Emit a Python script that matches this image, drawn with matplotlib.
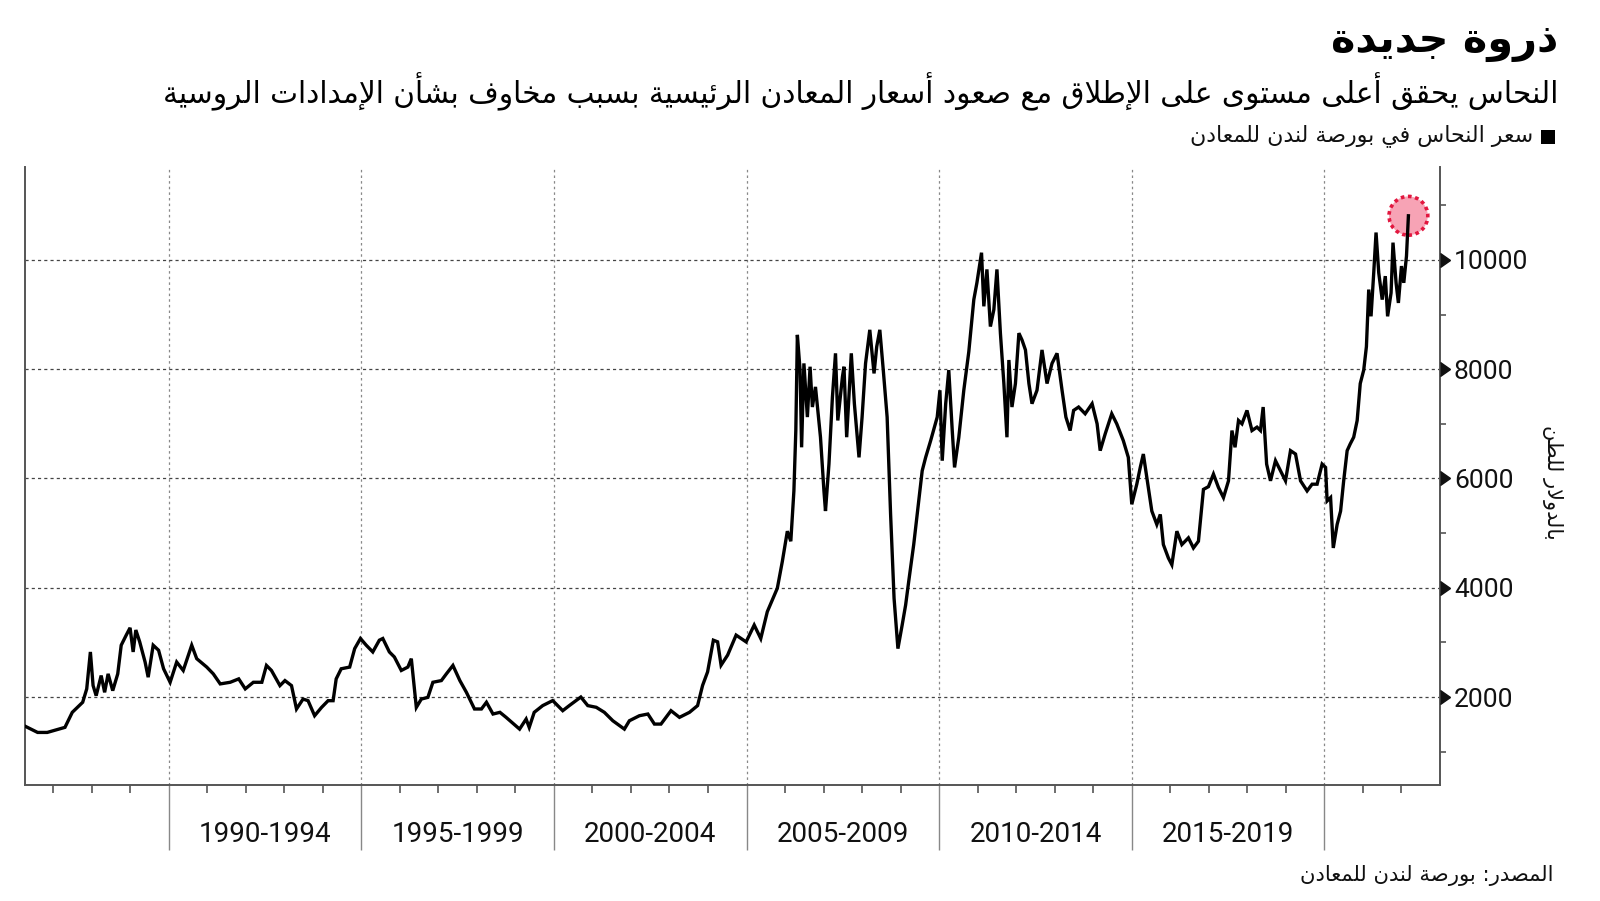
import matplotlib
matplotlib.use("Agg")
import matplotlib.pyplot as plt
import matplotlib.transforms as mtransforms
from matplotlib.patches import Rectangle
from matplotlib.ticker import FixedLocator, NullFormatter

# ---------------- data ----------------
years = [
    1986.25, 1986.6, 1986.85, 1987.0, 1987.31, 1987.5, 1987.77, 1987.875, 1987.97, 1988.04,
    1988.12, 1988.25, 1988.34, 1988.43, 1988.55, 1988.68, 1988.77, 1988.9, 1989.0, 1989.08,
    1989.15, 1989.25, 1989.39, 1989.47, 1989.6, 1989.74, 1989.87, 1990.04, 1990.21, 1990.38,
    1990.6, 1990.73, 1990.99, 1991.16, 1991.34, 1991.6, 1991.82, 1991.99, 1992.2, 1992.42,
    1992.54, 1992.67, 1992.89, 1993.02, 1993.19, 1993.32, 1993.49, 1993.62, 1993.79, 1993.97,
    1994.14, 1994.27, 1994.35, 1994.48, 1994.7, 1994.83, 1994.98, 1995.13, 1995.3, 1995.47,
    1995.56, 1995.73, 1995.86, 1996.04, 1996.21, 1996.3, 1996.43, 1996.56, 1996.73, 1996.86,
    1997.08, 1997.21, 1997.38, 1997.56, 1997.73, 1997.94, 1998.12, 1998.25, 1998.42, 1998.6,
    1998.76, 1999.11, 1999.28, 1999.36, 1999.49, 1999.71, 1999.97, 2000.23, 2000.4, 2000.7,
    2000.88, 2001.1, 2001.31, 2001.53, 2001.83, 2001.96, 2002.22, 2002.44, 2002.61, 2002.78,
    2003.04, 2003.26, 2003.52, 2003.73, 2003.86, 2003.99, 2004.14, 2004.25, 2004.34, 2004.51,
    2004.73, 2004.99, 2005.2, 2005.37, 2005.54, 2005.8, 2005.93, 2006.06, 2006.15, 2006.23,
    2006.28, 2006.32, 2006.39, 2006.43, 2006.49, 2006.58, 2006.65, 2006.71, 2006.79, 2006.92,
    2007.01, 2007.05, 2007.14, 2007.23, 2007.31, 2007.37, 2007.49, 2007.53, 2007.6, 2007.72,
    2007.8, 2007.92, 2008.0, 2008.09, 2008.2, 2008.31, 2008.38, 2008.46, 2008.55, 2008.65,
    2008.74, 2008.83, 2008.93, 2009.04, 2009.13, 2009.21, 2009.34, 2009.43, 2009.56, 2009.65,
    2009.78, 2009.95, 2010.02, 2010.08, 2010.17, 2010.25, 2010.34, 2010.4, 2010.51, 2010.64,
    2010.77, 2010.9, 2010.98, 2011.1, 2011.16, 2011.24, 2011.33, 2011.42, 2011.5, 2011.59,
    2011.68, 2011.76, 2011.81, 2011.89, 2011.98, 2012.07, 2012.15, 2012.24, 2012.33, 2012.41,
    2012.54, 2012.67, 2012.8, 2012.93, 2013.06, 2013.19, 2013.29, 2013.4, 2013.49, 2013.62,
    2013.79, 2013.97, 2014.1, 2014.18, 2014.31, 2014.48, 2014.61, 2014.78, 2014.91, 2015.0,
    2015.13, 2015.22, 2015.3, 2015.39, 2015.52, 2015.65, 2015.74, 2015.82, 2015.95, 2016.04,
    2016.17, 2016.3, 2016.47, 2016.6, 2016.73, 2016.86, 2016.99, 2017.12, 2017.25, 2017.38,
    2017.51, 2017.6, 2017.68, 2017.77, 2017.86, 2017.99, 2018.12, 2018.25, 2018.34, 2018.41,
    2018.5, 2018.6, 2018.73, 2018.86, 2018.99, 2019.12, 2019.25, 2019.38, 2019.55, 2019.68,
    2019.81, 2019.94, 2020.03, 2020.07, 2020.16, 2020.23, 2020.33, 2020.42, 2020.5, 2020.59,
    2020.67, 2020.76, 2020.85, 2020.93, 2021.02, 2021.09, 2021.15, 2021.21, 2021.28, 2021.34,
    2021.41, 2021.5, 2021.58, 2021.64, 2021.73, 2021.78, 2021.86, 2021.92, 2022.0, 2022.06,
    2022.13, 2022.18,
]
copper_price = [
    1475, 1352, 1352, 1383, 1445, 1720, 1904, 2149, 2825, 2210,
    2025, 2393, 2086, 2424, 2117, 2424, 2948, 3132, 3267, 2825,
    3226, 3010, 2640, 2363, 2948, 2856, 2517, 2270, 2640, 2486,
    2948, 2702, 2548, 2424, 2240, 2270, 2332, 2149, 2270, 2270,
    2578, 2486, 2209, 2301, 2209, 1781, 1963, 1933, 1658, 1810,
    1933, 1933, 2332, 2517, 2548, 2886, 3071, 2948, 2825, 3040,
    3071, 2825, 2733, 2486, 2548, 2702, 1810, 1963, 1994, 2270,
    2301, 2424, 2578, 2301, 2086, 1781, 1781, 1904, 1689, 1720,
    1628, 1413, 1597, 1444, 1720, 1843, 1935, 1750, 1843, 2000,
    1843, 1812, 1720, 1566, 1413, 1566, 1658, 1689, 1505, 1505,
    1750, 1628, 1720, 1843, 2212, 2460, 3040, 3010, 2583, 2767,
    3133, 3009, 3317, 3070, 3562, 3991, 4482, 5035, 4851, 5772,
    6877, 8628, 7983, 6570, 8106, 7123, 8045, 7307, 7676, 6755,
    5772, 5404, 6263, 7491, 8290, 7061, 7860, 8045, 6755, 8290,
    7368, 6386, 7123, 8106, 8720, 7922, 8413, 8720, 7983, 7123,
    5342, 3807, 2886, 3317, 3684, 4114, 4790, 5342, 6140, 6386,
    6693, 7123, 7614, 6325, 7368, 7983, 6877, 6202, 6750, 7614,
    8320, 9273, 9580, 10132, 9150, 9826, 8780, 9089, 9826, 8659,
    7737, 6754, 8168, 7307, 7737, 8659, 8536, 8352, 7737, 7368,
    7614, 8352, 7737, 8106, 8290, 7614, 7123, 6877, 7245, 7307,
    7184, 7368, 7000, 6509, 6816, 7184, 7000, 6693, 6386, 5527,
    5895, 6202, 6447, 6018, 5404, 5158, 5342, 4790, 4544, 4421,
    5035, 4790, 4913, 4728, 4851, 5800, 5850, 6080, 5834, 5650,
    5957, 6877, 6570, 7061, 7000, 7245, 6877, 6939, 6877, 7307,
    6263, 5957, 6325, 6140, 5957, 6509, 6447, 5957, 5772, 5895,
    5895, 6263, 6202, 5588, 5650, 4728, 5158, 5404, 5957, 6509,
    6632, 6755, 7061, 7737, 7983, 8413, 9457, 8967, 9764, 10501,
    9764, 9273, 9703, 8967, 9396, 10316, 9580, 9212, 9887, 9580,
    10071, 10807,
]
period_bounds = [1990, 1995, 2000, 2005, 2010, 2015, 2020]
period_labels = ["1990-1994", "1995-1999", "2000-2004", "2005-2009",
                 "2010-2014", "2015-2019"]
y_major = [2000, 4000, 6000, 8000, 10000]
y_minor = [1000, 3000, 5000, 7000, 9000, 11000]

title = "ذروة جديدة"
subtitle = "النحاس يحقق أعلى مستوى على الإطلاق مع صعود أسعار المعادن الرئيسية بسبب مخاوف بشأن الإمدادات الروسية"
legend_label = "سعر النحاس في بورصة لندن للمعادن"
y_label = "بالدولار للطن"
source = "المصدر: بورصة لندن للمعادن"

# ---------------- Arabic shaping (presentation forms + RTL order) ----------------
AR_FORMS = {
    '\u0621': (0xFE80, 1), '\u0622': (0xFE81, 2), '\u0623': (0xFE83, 2), '\u0624': (0xFE85, 2),
    '\u0625': (0xFE87, 2), '\u0626': (0xFE89, 4), '\u0627': (0xFE8D, 2), '\u0628': (0xFE8F, 4),
    '\u0629': (0xFE93, 2), '\u062A': (0xFE95, 4), '\u062B': (0xFE99, 4), '\u062C': (0xFE9D, 4),
    '\u062D': (0xFEA1, 4), '\u062E': (0xFEA5, 4), '\u062F': (0xFEA9, 2), '\u0630': (0xFEAB, 2),
    '\u0631': (0xFEAD, 2), '\u0632': (0xFEAF, 2), '\u0633': (0xFEB1, 4), '\u0634': (0xFEB5, 4),
    '\u0635': (0xFEB9, 4), '\u0636': (0xFEBD, 4), '\u0637': (0xFEC1, 4), '\u0638': (0xFEC5, 4),
    '\u0639': (0xFEC9, 4), '\u063A': (0xFECD, 4), '\u0641': (0xFED1, 4), '\u0642': (0xFED5, 4),
    '\u0643': (0xFED9, 4), '\u0644': (0xFEDD, 4), '\u0645': (0xFEE1, 4), '\u0646': (0xFEE5, 4),
    '\u0647': (0xFEE9, 4), '\u0648': (0xFEED, 2), '\u0649': (0xFEEF, 2), '\u064A': (0xFEF1, 4),
}
LAM_ALEF = {'\u0622': 0xFEF5, '\u0623': 0xFEF7, '\u0625': 0xFEF9, '\u0627': 0xFEFB}


def ar(s):
    out = []
    n = len(s)
    i = 0
    prev_joins = False
    while i < n:
        c = s[i]
        if c not in AR_FORMS:
            out.append(c)
            prev_joins = False
            i += 1
            continue
        if c == '\u0644' and i + 1 < n and s[i + 1] in LAM_ALEF:
            out.append(chr(LAM_ALEF[s[i + 1]] + (1 if prev_joins else 0)))
            prev_joins = False
            i += 2
            continue
        base, nf = AR_FORMS[c]
        nxt = s[i + 1] if i + 1 < n else None
        next_joins = (nf == 4) and (nxt in AR_FORMS)
        if nf == 1:
            form = 0
        elif prev_joins and next_joins:
            form = 3
        elif prev_joins:
            form = 1
        elif next_joins:
            form = 2
        else:
            form = 0
        out.append(chr(base + form))
        prev_joins = (nf == 4)
        i += 1
    return ''.join(reversed(out))


# ---------------- figure ----------------
W, H = 1600, 901
fig = plt.figure(figsize=(16, 9.01), dpi=100)
fig.patch.set_facecolor("white")


def fx(px):
    return px / W


def fy(py):
    return 1 - py / H


ax_left, ax_right, ax_top, ax_bottom = 24.5, 1440, 167, 785
ax = fig.add_axes([fx(ax_left), fy(ax_bottom), fx(ax_right - ax_left), (ax_bottom - ax_top) / H])
ax.set_xlim(1986.26, 2023.0)
ax.set_ylim(390, 11700)

# circle highlighting the record
ax.scatter([years[-1]], [copper_price[-1]], s=780, facecolor="#f7a3b5",
           edgecolor="#e2173f", linewidth=2.6, linestyle=(0, (1, 1)), zorder=3)
ax.plot(years, copper_price, color="black", lw=2.4, zorder=4, solid_joinstyle="miter")

# spines
ax.spines["top"].set_visible(False)
for side in ["left", "bottom", "right"]:
    ax.spines[side].set_color("#555555")
    ax.spines[side].set_linewidth(1.4)

# y axis on the right
ax.yaxis.tick_right()
ax.yaxis.set_major_locator(FixedLocator(y_major))
ax.yaxis.set_minor_locator(FixedLocator(y_minor))
ax.set_yticklabels([str(v) for v in y_major], fontsize=19, family="Roboto", color="#111111")
ax.tick_params(axis="y", which="major", length=0, pad=10)
ax.tick_params(axis="y", which="minor", length=4, width=1.2, color="#555555", direction="out")
ax.yaxis.grid(True, which="major", linestyle=(0, (2.5, 2.5)), color="#444444", lw=0.9)
trans_y = mtransforms.blended_transform_factory(ax.transAxes, ax.transData)
ax.plot([1.0] * len(y_major), y_major, marker=9, ms=10, color="#111111", ls="none",
        transform=trans_y, clip_on=False, zorder=5)

# x axis
ax.xaxis.set_major_locator(FixedLocator(period_bounds))
ax.xaxis.set_minor_locator(FixedLocator(list(range(1987, 2023))))
ax.xaxis.set_major_formatter(NullFormatter())
ax.tick_params(axis="x", which="major", length=47, width=1.0, color="#888888", direction="out")
ax.tick_params(axis="x", which="minor", length=5.5, width=1.2, color="#555555", direction="out")
ax.xaxis.grid(True, which="major", linestyle=(0, (2, 2.5)), color="#888888", lw=0.9)
ax.set_axisbelow(True)

trans_x = mtransforms.blended_transform_factory(ax.transData, ax.transAxes)
label_y = (ax_bottom - 835) / (ax_bottom - ax_top)
for i, lab in enumerate(period_labels):
    xc = (period_bounds[i] + period_bounds[i + 1]) / 2
    ax.text(xc, label_y, lab, transform=trans_x, ha="center", va="center",
            fontsize=20, family="Roboto", color="#111111")

# ---------------- texts ----------------
renderer = fig.canvas.get_renderer()


def fit_text(x_right, y_center, s, width_px, size0=20, **kw):
    t = fig.text(fx(x_right), fy(y_center), s, ha="right", va="center",
                 fontsize=size0, **kw)
    w = t.get_window_extent(renderer).width
    t.set_fontsize(size0 * width_px / w)
    return t


fit_text(1558, 42, ar(title), 227, family="DejaVu Sans", weight="bold", color="black")
fit_text(1558, 92, ar(subtitle), 1395, family="DejaVu Sans", color="black")
fit_text(1533, 136, ar(legend_label), 344, family="DejaVu Sans", color="#111111")
fit_text(1553, 876, ar(source), 255, family="DejaVu Sans", color="#111111")

fig.add_artist(Rectangle((fx(1541), fy(144)), 14 / W, 14 / H, transform=fig.transFigure,
                         facecolor="black", edgecolor="none"))

fig.text(fx(1553), fy(482), ar(y_label), rotation=270, ha="center", va="center",
         fontsize=15, family="DejaVu Sans", color="#111111")

fig.savefig("out.png", dpi=100, facecolor="white")
